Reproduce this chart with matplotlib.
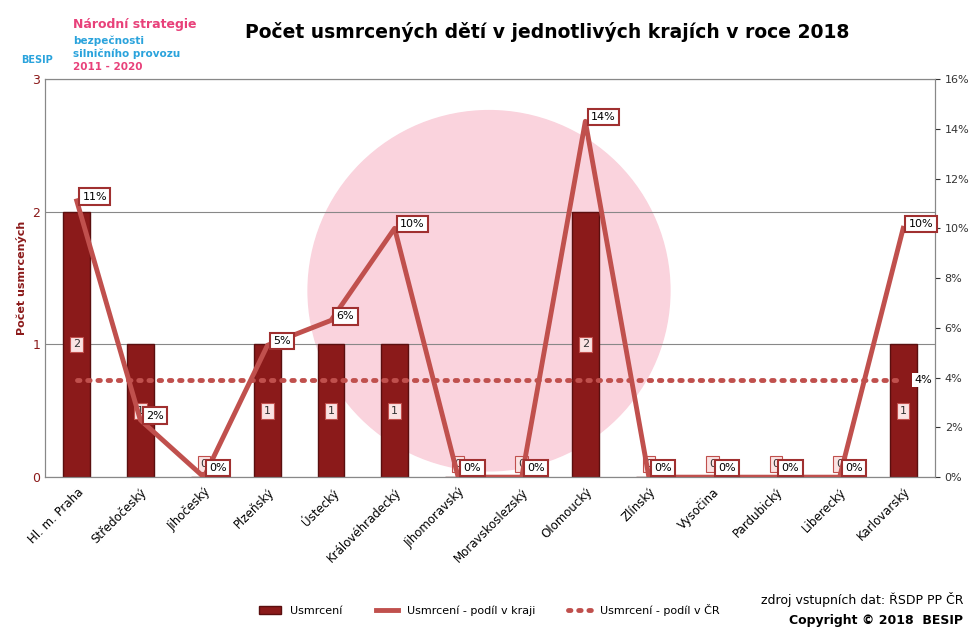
import matplotlib.pyplot as plt
from matplotlib.patches import Ellipse
import numpy as np
from matplotlib.ticker import FuncFormatter

# --- Data ---
regions = ['Hl. m. Praha', 'Středočeský', 'Jihočeský', 'Plzeňský', 'Ústecký',
           'Královéhradecký', 'Jihomoravský', 'Moravskoslezský', 'Olomoucký',
           'Zlínský', 'Vysočina', 'Pardubický', 'Liberecký', 'Karlovarský']
killed = [2, 1, 0, 1, 1, 1, 0, 0, 2, 0, 0, 0, 0, 1]
share_region = [11.1, 2.3, 0, 5.3, 6.3, 10.0, 0, 0, 14.3, 0, 0, 0, 0, 10.0]
share_cr = [3.9] * 14

dark = '#8b1a1a'
line_c = '#c0504d'

fig = plt.figure(figsize=(9.78, 6.32), dpi=100)
ax = fig.add_axes([0.046, 0.245, 0.91, 0.63])
ax2 = ax.twinx()

x = np.arange(len(regions))
ax.set_xlim(-0.5, len(regions) - 0.5)
ax.set_ylim(0, 3)
ax2.set_ylim(0, 16)

# faint watermark circle behind everything in the plot
ax.add_patch(Ellipse((0.5, 0.54), 0.37, 0.57, transform=fig.transFigure,
                     color='#fad3dd', zorder=0.5, clip_on=False))

ax.bar(x, killed, width=0.42, color=dark, edgecolor='#5a0f0f', zorder=2,
       label='Usmrcení')
for xi, v in zip(x, killed):
    ax.text(xi, v / 2 if v else 0.1, str(v), ha='center', va='center',
            fontsize=8, color='#333333',
            bbox=dict(boxstyle='square,pad=0.25', fc='#fbe3e3', ec='#c0504d', lw=0.8),
            zorder=5)

ax2.plot(x, share_region, color=line_c, lw=3.5, zorder=3,
         label='Usmrcení - podíl v kraji')
ax2.plot(x, share_cr, color=line_c, lw=3.5, ls=(0, (0.5, 1.6)),
         dash_capstyle='round', zorder=3, label='Usmrcení - podíl v ČR')
for xi, v in zip(x, share_region):
    ax2.annotate(f'{v:.0f}%', (xi, v), xytext=(4, 3), textcoords='offset points',
                 ha='left', va='center' if v else 'bottom', fontsize=8,
                 bbox=dict(boxstyle='square,pad=0.3', fc='white', ec='#a03030', lw=1.5),
                 zorder=6)
ax2.annotate('4%', (x[-1], 3.9), xytext=(8, 0), textcoords='offset points',
             ha='left', va='center', fontsize=8,
             bbox=dict(boxstyle='square,pad=0.2', fc='white', ec='none'), zorder=6)

ax.set_yticks([0, 1, 2, 3])
ax.tick_params(axis='y', colors=dark, labelsize=9, length=0)
ax.grid(axis='y', color='#888888', lw=0.8, zorder=1)
ax.set_axisbelow(True)
ax2.set_yticks(range(0, 17, 2))
ax2.yaxis.set_major_formatter(FuncFormatter(lambda v, p: f'{v:.0f}%'))
ax2.tick_params(axis='y', labelsize=8, colors='#333333')
ax.set_xticks(x)
ax.set_xticklabels(regions, rotation=45, ha='right', rotation_mode='anchor', fontsize=8.5)
ax.tick_params(axis='x', length=0, pad=6)
ax.set_ylabel('Počet usmrcených', color=dark, fontsize=8, fontweight='bold')
for s in ax.spines.values():
    s.set_color('#888888')
for s in ax2.spines.values():
    s.set_color('#888888')

fig.text(0.56, 0.94, 'Počet usmrcených dětí v jednotlivých krajích v roce 2018',
         ha='center', fontsize=13.5, fontweight='bold')
fig.text(0.075, 0.955, 'Národní strategie', color='#e8417a', fontsize=9, fontweight='bold')
fig.text(0.075, 0.93, 'bezpečnosti', color='#2aa3dc', fontsize=7.5, fontweight='bold')
fig.text(0.075, 0.91, 'silničního provozu', color='#2aa3dc', fontsize=7.5, fontweight='bold')
fig.text(0.075, 0.89, '2011 - 2020', color='#e8417a', fontsize=7.5, fontweight='bold')
fig.text(0.022, 0.9, 'BESIP', color='#2aa3dc', fontsize=7, fontweight='bold')

h1, l1 = ax.get_legend_handles_labels()
h2, l2 = ax2.get_legend_handles_labels()
fig.legend(h1 + h2, l1 + l2, loc='lower center', bbox_to_anchor=(0.5, 0.01),
           ncol=3, frameon=False, fontsize=8, columnspacing=3)
fig.text(0.985, 0.045, 'zdroj vstupních dat: ŘSDP PP ČR', ha='right', fontsize=9)
fig.text(0.985, 0.012, 'Copyright © 2018  BESIP', ha='right', fontsize=9, fontweight='bold')

fig.savefig('out.png', dpi=100)
